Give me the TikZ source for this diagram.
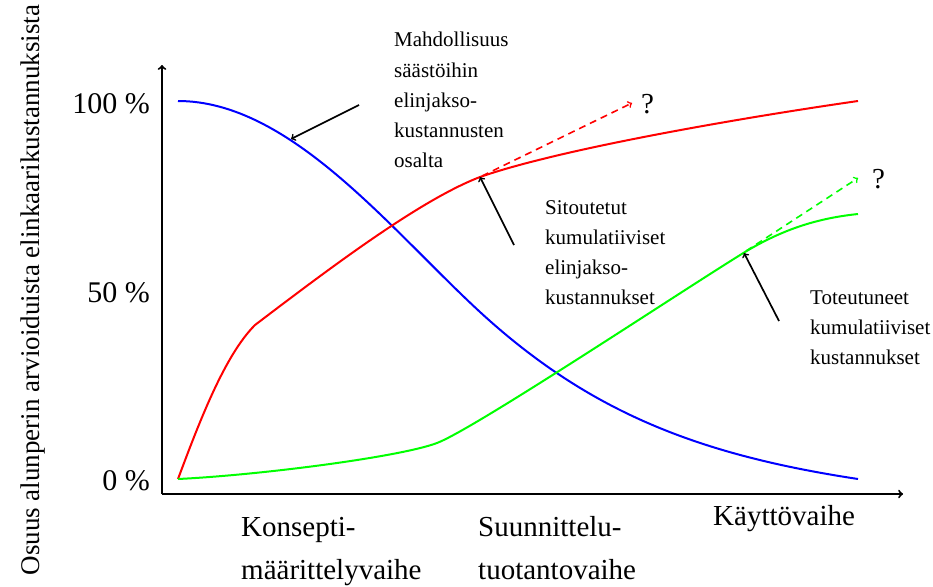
\documentclass[tikz,border=0pt]{standalone}
\usepackage{fontspec}
\setmainfont{Liberation Serif}
\begin{document}
\begin{tikzpicture}[x=1pt,y=-1pt,
  curve/.style={line width=2pt},
  axis/.style={line width=2pt,->},
  pointer/.style={line width=1.7pt,->},
  guess/.style={line width=1.6pt,->,dash pattern=on 7pt off 5pt},
  ticklab/.style={anchor=base east,inner sep=0,font=\fontsize{30}{34}\selectfont},
  note/.style={anchor=base west,inner sep=0,font=\fontsize{21}{30}\selectfont},
  phase/.style={anchor=base west,inner sep=0,font=\fontsize{29}{43}\selectfont},
  qmark/.style={anchor=base west,inner sep=0,font=\fontsize{29}{34}\selectfont}]
\useasboundingbox (0,0) rectangle (933,586);

% axes
\coordinate (O) at (162,494);
\coordinate (Xend) at (903,494);
\coordinate (Yend) at (162,65);
\draw[axis] (O) -- (Xend);
\draw[axis] (O) -- (Yend);

% tick labels
\node[ticklab] (t100) at (150,113) {100 \%};
\node[ticklab] (t50) at (150,302) {50 \%};
\node[ticklab] (t0) at (150,490) {0 \%};

% y label
\node[rotate=90,anchor=base,inner sep=0,font=\fontsize{27}{30}\selectfont] (ylab) at (39,290)
  {Osuus alunperin arvioiduista elinkaarikustannuksista};

% blue curve
\draw[curve,blue] (178,101) .. controls (290,101) and (390,229) .. (480,312)
  .. controls (590,413) and (700,455) .. (858,479);

% red curve
\draw[curve,red] (178,479) .. controls (200,420) and (225,355) .. (255,325)
  .. controls (330,268) and (420,200) .. (480,177)
  .. controls (560,149) and (740,118) .. (858,101);

% green curve
\draw[curve,green] (178,479) .. controls (260,475) and (400,457) .. (437,443)
  .. controls (475,428.5) and (683,290) .. (745,252)
  .. controls (785,228) and (820,218) .. (858,214);

% dashed extrapolations
\coordinate (rs) at (482,176);
\coordinate (re) at (632,103);
\draw[guess,red] (rs) -- (re);
\node[qmark] (rq) at (641,113) {?};
\coordinate (gs) at (746,251);
\coordinate (ge) at (858,178);
\draw[guess,green] (gs) -- (ge);
\node[qmark] (gq) at (872,188) {?};

% pointers
\coordinate (p1s) at (359,105);
\coordinate (p1e) at (291,139);
\draw[pointer] (p1s) -- (p1e);
\coordinate (p2s) at (514,245);
\coordinate (p2e) at (480,177);
\draw[pointer] (p2s) -- (p2e);
\coordinate (p3s) at (779,321);
\coordinate (p3e) at (744,253);
\draw[pointer] (p3s) -- (p3e);

% notes
\node[note] (n1) at (394,47) {\begin{tabular}[t]{@{}l@{}}Mahdollisuus\\säästöihin\\elinjakso-\\kustannusten\\osalta\end{tabular}};
\node[note] (n2) at (545,214) {\begin{tabular}[t]{@{}l@{}}Sitoutetut\\kumulatiiviset\\elinjakso-\\kustannukset\end{tabular}};
\node[note] (n3) at (810,304) {\begin{tabular}[t]{@{}l@{}}Toteutuneet\\kumulatiiviset\\kustannukset\end{tabular}};

% phases
\node[phase] (ph1) at (241,536) {\begin{tabular}[t]{@{}l@{}}Konsepti-\\määrittelyvaihe\end{tabular}};
\node[phase] (ph2) at (478,536) {\begin{tabular}[t]{@{}l@{}}Suunnittelu-\\tuotantovaihe\end{tabular}};
\node[phase] (ph3) at (713,525) {Käyttövaihe};
\end{tikzpicture}
\end{document}
